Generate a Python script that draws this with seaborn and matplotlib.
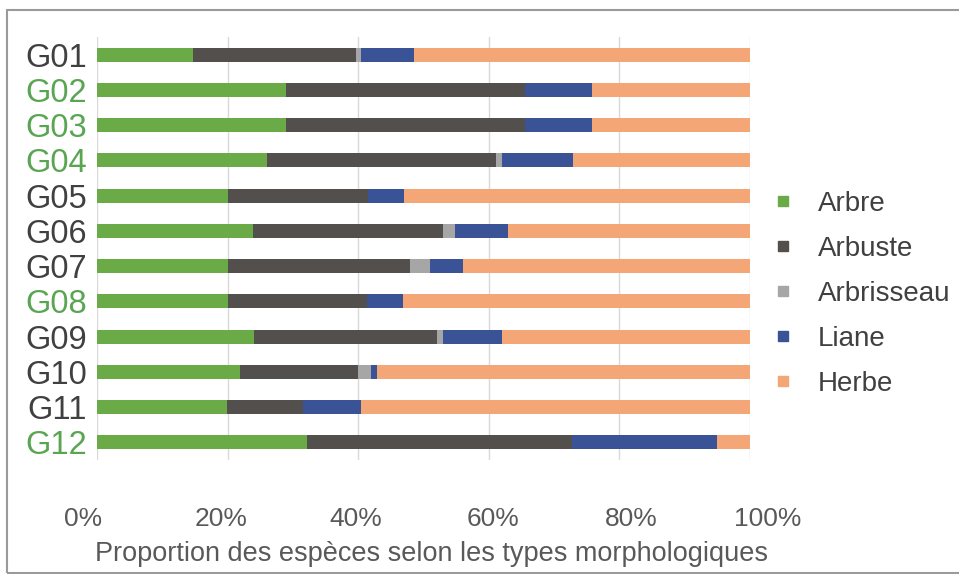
import matplotlib
matplotlib.use('Agg')
import matplotlib.pyplot as plt
import matplotlib.transforms as mtransforms
import seaborn as sns
import numpy as np
import pandas as pd
from matplotlib.lines import Line2D
from matplotlib.patches import Rectangle

groups = ['G01', 'G02', 'G03', 'G04', 'G05', 'G06', 'G07', 'G08', 'G09', 'G10', 'G11', 'G12']
arbre = [14.7, 28.9, 28.9, 26.0, 20.0, 23.9, 20.0, 20.0, 24.0, 21.9, 19.9, 32.2]
arbuste = [25.0, 36.6, 36.6, 35.1, 21.5, 29.1, 27.9, 21.3, 28.1, 18.1, 11.7, 40.5]
arbrisseau = [0.8, 0.0, 0.0, 0.9, 0.0, 1.8, 3.1, 0.0, 0.9, 1.9, 0.0, 0.0]
liane = [8.0, 10.3, 10.3, 10.9, 5.5, 8.1, 5.0, 5.6, 9.0, 1.0, 8.9, 22.3]
herbe = [51.5, 24.2, 24.2, 27.1, 53.0, 37.1, 44.0, 53.1, 38.0, 57.1, 59.5, 5.0]
series_names = ['Arbre', 'Arbuste', 'Arbrisseau', 'Liane', 'Herbe']
label_green = ['G02', 'G03', 'G04', 'G08', 'G12']
xticks = [0, 20, 40, 60, 80, 100]
xtick_labels = ['0%', '20%', '40%', '60%', '80%', '100%']

colors = ['#6bab47', '#524f4c', '#a6a6a6', '#3a5396', '#f4a677']

sns.set_theme(style='white')
plt.rcParams['font.family'] = ['Liberation Sans', 'DejaVu Sans']

W, H = 959, 574
fig = plt.figure(figsize=(W / 100, H / 100), dpi=100)
ax = fig.add_axes([97 / W, 1 - 460 / H, (750 - 97) / W, (460 - 37) / H])

values = [arbre, arbuste, arbrisseau, liane, herbe]
cum = np.cumsum(np.array(values), axis=0)
df = pd.DataFrame({'group': groups})
for name, c in zip(series_names, cum):
    df[name] = c

# draw from the total downwards so each layer shows its own segment
for i in range(len(series_names) - 1, -1, -1):
    sns.barplot(data=df, x=series_names[i], y='group', orient='h', color=colors[i],
                saturation=1, width=0.4, ax=ax, linewidth=0, zorder=3)

ax.set_xlim(0, 100)
ax.set_ylim(11.5, -0.5)
ax.set_xticks(xticks)
ax.set_xticklabels(xtick_labels)
ax.grid(axis='x', color='#d9d9d9', linewidth=1, zorder=0)
ax.grid(axis='y', visible=False)
for s in ax.spines.values():
    s.set_visible(False)
ax.tick_params(axis='x', length=0, pad=34, labelsize=19, labelcolor='#595959')
ax.tick_params(axis='y', length=0, pad=7, labelsize=23.5)
for lab in ax.get_yticklabels():
    lab.set_color('#5aa552' if lab.get_text() in label_green else '#404040')

# the reference spreads its percentage labels slightly wider than the gridlines
label_shift_px = [-14, -7, -2, 4, 12, 18]
for lab, dx in zip(ax.get_xticklabels(), label_shift_px):
    lab.set_transform(lab.get_transform() +
                      mtransforms.ScaledTranslation(dx / 100, 0, fig.dpi_scale_trans))

ax.set_ylabel('')
ax.set_xlabel('Proportion des espèces selon les types morphologiques', fontsize=19.5,
              color='#595959', labelpad=7)
ax.xaxis.label.set_x((432 - 97) / 653)

handles = [Line2D([0], [0], marker='s', linestyle='none', markersize=7,
                  markerfacecolor=c, markeredgecolor=c) for c in colors]
fig.legend(handles, series_names, loc='upper left',
           bbox_to_anchor=(744 / W, 1 - 166 / H), frameon=False,
           fontsize=20, labelcolor='#404040', handlelength=1.0,
           handletextpad=0.77, labelspacing=0.68)

fig.patches.append(Rectangle((7 / W, 1 - 573 / H), 1.0, (573 - 10) / H,
                             transform=fig.transFigure, fill=False,
                             edgecolor='#9a9a9a', linewidth=1.5))

fig.savefig('out.png', dpi=100)
